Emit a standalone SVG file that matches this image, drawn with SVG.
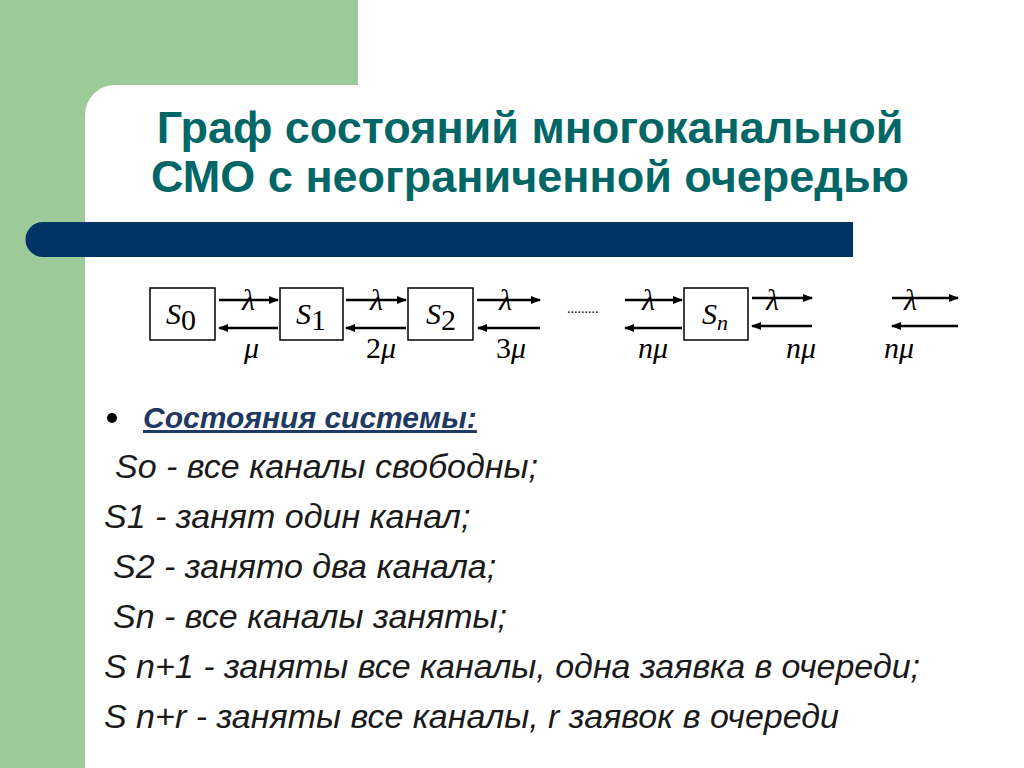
<svg xmlns="http://www.w3.org/2000/svg" width="1024" height="768" viewBox="0 0 1024 768">
<defs>
<marker id="ah" markerWidth="10" markerHeight="8" refX="9" refY="4" orient="auto" markerUnits="userSpaceOnUse"><path d="M0,0 L10,4 L0,8 Z" fill="#000"/></marker>
<style>
.box{fill:#fff;stroke:#000;stroke-width:1.5}
.ar{stroke:#000;stroke-width:2.5;fill:none;marker-end:url(#ah)}
.m{font-family:"Liberation Serif",serif;font-style:italic;font-size:30px;fill:#000}
.n{font-family:"Liberation Serif",serif;font-size:30px;fill:#000}
.t{font-family:"Liberation Sans",Arial,sans-serif;font-style:italic;font-size:27px;fill:#1a1a1a}
</style>
</defs>
<rect width="1024" height="768" fill="#fff"/>
<rect x="0" y="0" width="358" height="85" fill="#9cca98"/>
<rect x="0" y="0" width="85" height="768" fill="#9cca98"/>
<path d="M85,85 h30 a30,30 0 0 0 -30,30 Z" fill="#9cca98"/>
<path d="M43,222 H853 V257 H43 a17.5,17.5 0 0 1 0,-35 Z" fill="#003366"/>
<g font-family="'Liberation Sans',Arial,sans-serif" font-weight="bold" font-size="45" fill="#006666" text-anchor="middle">
<text x="530" y="143">Граф состояний многоканальной</text>
<text x="530" y="192">СМО с неограниченной очередью</text>
</g>
<g id="S0"><rect class="box" x="150" y="288" width="65" height="52"/><text class="m" x="166" y="324">S<tspan class="n" dy="6" font-style="normal" font-size="24">0</tspan></text></g>
<g id="S1"><rect class="box" x="280" y="288" width="63" height="52"/><text class="m" x="296" y="324">S<tspan class="n" dy="6" font-style="normal" font-size="24">1</tspan></text></g>
<g id="S2"><rect class="box" x="408" y="288" width="65" height="52"/><text class="m" x="426" y="324">S<tspan class="n" dy="6" font-style="normal" font-size="24">2</tspan></text></g>
<g id="Sn"><rect class="box" x="684" y="288" width="64" height="52"/><text class="m" x="702" y="324">S<tspan dy="6" font-size="22">n</tspan></text></g>
<g id="connectors">
<line class="ar" x1="219" y1="300" x2="278" y2="300"/>
<line class="ar" x1="278" y1="328" x2="219" y2="328"/>
<line class="ar" x1="346" y1="300" x2="406" y2="300"/>
<line class="ar" x1="406" y1="328" x2="346" y2="328"/>
<line class="ar" x1="477" y1="300" x2="540" y2="300"/>
<line class="ar" x1="540" y1="328" x2="478" y2="328"/>
<line class="ar" x1="625" y1="300" x2="682" y2="300"/>
<line class="ar" x1="682" y1="328" x2="625" y2="328"/>
<line class="ar" x1="752" y1="298" x2="812" y2="298"/>
<line class="ar" x1="812" y1="326" x2="752" y2="326"/>
<line class="ar" x1="892" y1="298" x2="958" y2="298"/>
<line class="ar" x1="958" y1="326" x2="892" y2="326"/>
</g>
<g class="m">
<text x="242" y="310">λ</text><text x="370" y="310">λ</text><text x="499" y="310">λ</text><text x="642" y="310">λ</text><text x="766" y="310">λ</text><text x="904" y="310">λ</text>
<text x="244" y="358">μ</text><text x="366" y="358"><tspan font-style="normal">2</tspan>μ</text><text x="496" y="358"><tspan font-style="normal">3</tspan>μ</text>
<text x="638" y="358">nμ</text><text x="786" y="358">nμ</text><text x="884" y="358">nμ</text>
</g>
<text x="567" y="313" font-family="Liberation Serif,serif" font-size="14">.........</text>
<circle cx="112" cy="418" r="5" fill="#000"/>
<text x="143" y="428" font-family="'Liberation Sans',Arial,sans-serif" font-style="italic" font-weight="bold" font-size="30" fill="#1f3864" text-decoration="underline">Состояния системы:</text>
<g class="t" font-size="34">
<text x="115" y="478" font-size="34">So - все каналы свободны;</text>
<text x="104" y="528" font-size="34">S1 - занят один канал;</text>
<text x="113" y="578" font-size="34">S2 - занято два канала;</text>
<text x="113" y="628" font-size="34">Sn - все каналы заняты;</text>
<text x="104" y="678" font-size="34" textLength="816">S n+1 - заняты все каналы, одна заявка в очереди;</text>
<text x="104" y="728" font-size="34">S n+r - заняты все каналы, r заявок в очереди</text>
</g>
</svg>
